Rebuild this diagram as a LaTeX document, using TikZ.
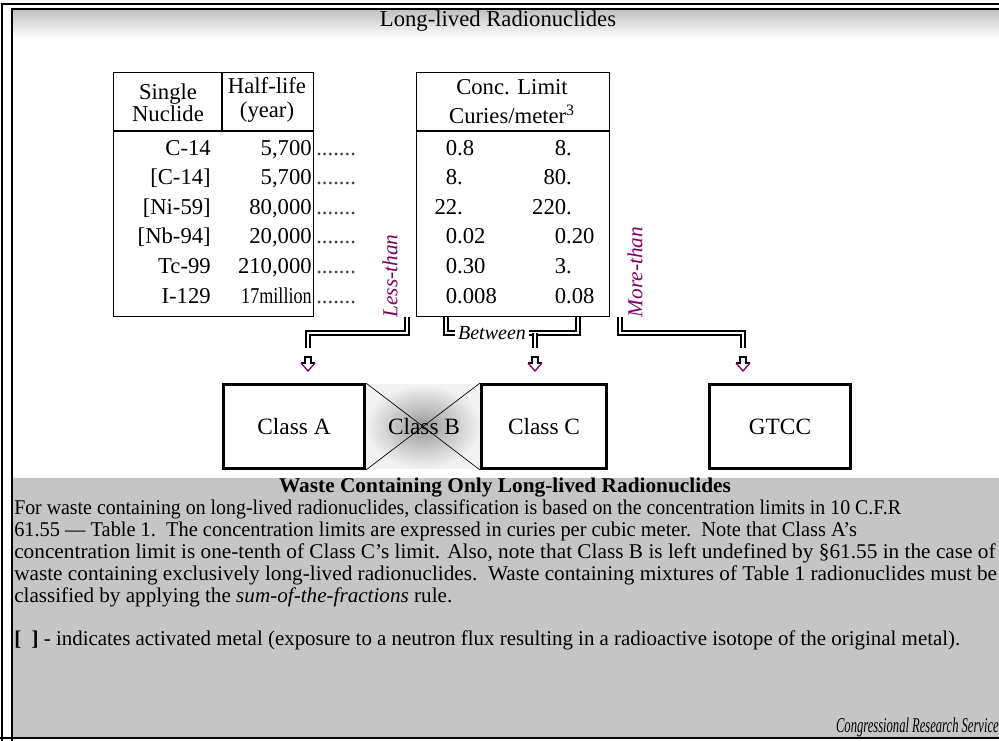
\documentclass[tikz,border=0pt]{standalone}
\usepackage{fontspec}
\setmainfont{Liberation Serif}
\usetikzlibrary{positioning}

\definecolor{plum}{RGB}{128,0,102}
\definecolor{panelgray}{RGB}{197,197,197}

% value centred on its decimal point
\newcommand{\decval}[2]{\llap{#1}.\rlap{#2}}
% squeeze or stretch a line of text to a given width
\newcommand{\fitline}[2]{\resizebox{#1}{\height}{#2}}

\begin{document}
\begin{tikzpicture}[%
            x=0.75pt, y=-0.75pt,
            every node/.style={inner sep=0pt, font=\fontsize{17}{16.5}\selectfont},
            tabline/.style={line width=1.1pt},
            classbox/.style={draw, line width=2.2pt, minimum height=63pt, font=\fontsize{17.5}{20}\selectfont},
            link/.style={double, double distance=1.9pt, line width=1.1pt},
            sidelabel/.style={text=plum, rotate=90, font=\fontsize{16}{16}\selectfont\itshape},
            bodyline/.style={anchor=west, font=\fontsize{15.75}{18}\selectfont},
            droparrow/.pic={
                \draw[line width=1.3pt] (-7,6) -- (-3,6) -- (-3,0) -- (3,0) -- (3,6) -- (7,6);
                \draw[plum, line width=1pt] (-7,6) -- (0,14) -- (7,6);
            }
    ]
        \useasboundingbox (0,0) rectangle (999,740);

        % frame, title band and lower panel
        \shade[top color=black!25, bottom color=white] (11,9) rectangle (999,38);
        \fill[panelgray] (12,478) rectangle (999,737);
        \draw[line width=1.5pt] (2,741) -- (2,3.5) -- (1010,3.5);
        \draw[line width=1.5pt] (11.5,741) -- (11.5,8.5) -- (1010,8.5);
        \draw[line width=1.5pt] (0,737.5) -- (1010,737.5);

        \node (title) at (498,21) {Long-lived Radionuclides};

        % nuclide table
        \node[draw, tabline, anchor=north west, minimum width=150pt, minimum height=183pt] (nuctab) at (113,72) {};
        \draw[tabline] (113,131) -- (313,131) (222,72) -- (222,131);
        \node[align=center] (nuchead) at (168,103) {Single\\Nuclide};
        \node[align=center, font=\fontsize{17}{18}\selectfont] (lifehead) at (267,100) {Half-life\\(year)};

        % limit table
        \node[draw, tabline, anchor=north west, minimum width=144.75pt, minimum height=183pt] (conctab) at (416,72) {};
        \draw[line width=2.2pt] (416,131) -- (609,131);
        \node[align=center, font=\fontsize{17}{21.75}\selectfont] (conchead) at (512,102) {Conc. Limit\\Curies/meter\textsuperscript{3}};

        \foreach \nuc/\life/\loint/\lofrac/\hiint/\hifrac [count=\r from 0] in {
                {C-14}/{5,700}/0/8/8/{},
                {[C-14]}/{5,700}/8/{}/80/{},
                {[Ni-59]}/{80,000}/22/{}/220/{},
                {[Nb-94]}/{20,000}/0/02/0/20,
                {Tc-99}/{210,000}/0/30/3/{},
                {I-129}/{\scalebox{0.8}[1]{17million}}/0/008/0/08}
        {
            \node[anchor=base east] (nuc\r) at (211,155+29.6*\r) {\nuc};
            \node[anchor=base east] (life\r) at (312,155+29.6*\r) {\life};
            \node[anchor=base west, text=black!75] (dots\r) at (316,155+29.6*\r) {.......};
            \node[anchor=base] (lo\r) at (460,155+29.6*\r) {\decval{\loint}{\lofrac}};
            \node[anchor=base] (hi\r) at (569,155+29.6*\r) {\decval{\hiint}{\hifrac}};
        }

        % connectors
        \node[sidelabel] (less) at (390,276) {Less-than};
        \node[sidelabel] (more) at (635,272) {More-than};
        \node[inner sep=2pt, font=\fontsize{15}{15}\selectfont\itshape] (between) at (492,333) {Between};

        \coordinate (lessfoot) at (407,317);
        \coordinate (betwL) at (446,317);
        \coordinate (betwR) at (578,317);
        \coordinate (morefoot) at (620,317);
        \coordinate (tipA) at (308,348);
        \coordinate (tipC) at (535,348);
        \coordinate (tipG) at (743,348);

        \draw[link] (lessfoot) -- ++(0,16) -| (tipA);
        \draw[link] (betwL) |- (between.west);
        \draw[link] (between.east) -| (betwR);
        \draw[link] (tipC |- between.east) -- (tipC);
        \draw[link] (morefoot) -- ++(0,16) -| (tipG);

        \pic at (308,357) {droparrow};
        \pic at (535,357) {droparrow};
        \pic at (743,357) {droparrow};

        % classes
        \shade[inner color=black!40, outer color=black!5] (365,384.5) rectangle (481,468.5);
        \node[classbox, minimum width=105.75pt] (classA) at (294,426.5) {Class A};
        \node[classbox, minimum width=93.75pt] (classC) at (544,426.5) {Class C};
        \node[classbox, minimum width=105.75pt] (gtcc) at (780,426.5) {GTCC};
        \draw[line width=0.5pt] (classA.north east) -- (classC.south west) (classA.south east) -- (classC.north west);
        \node[font=\fontsize{17.5}{20}\selectfont] (classB) at (424,426.5) {Class B};

        % notes
        \node[font=\fontsize{15.75}{18}\selectfont\bfseries] (wastehead) at (505,488) {\fitline{339pt}{Waste Containing Only Long-lived Radionuclides}};
        \node[bodyline] (line1) at (14,509) {\fitline{665pt}{For waste containing on long-lived radionuclides, classification is based on the concentration limits in 10 C.F.R}};
        \node[bodyline] (line2) at (14,531) {\fitline{632pt}{61.55 — Table 1.\ \ The concentration limits are expressed in curies per cubic meter.\ \ Note that Class A’s}};
        \node[bodyline] (line3) at (14,553) {\fitline{736pt}{concentration limit is one-tenth of Class C’s limit. Also, note that Class B is left undefined by §61.55 in the case of}};
        \node[bodyline] (line4) at (14,575) {\fitline{737pt}{waste containing exclusively long-lived radionuclides.\ \ Waste containing mixtures of Table 1 radionuclides must be}};
        \node[bodyline] (line5) at (14,597) {\fitline{328.5pt}{classified by applying the \textit{sum-of-the-fractions} rule.}};
        \node[bodyline] (metal) at (14,640) {\fitline{709.5pt}{\textbf{[\ \ ]} - indicates activated metal (exposure to a neutron flux resulting in a radioactive isotope of the original metal).}};
        \node[anchor=east, font=\fontsize{15.75}{18}\selectfont\itshape] (crs) at (999,727) {\fitline{122pt}{Congressional Research Service}};
\end{tikzpicture}
\end{document}
